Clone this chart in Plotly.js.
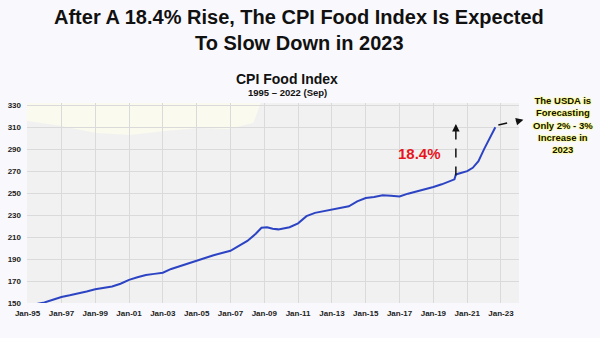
<!DOCTYPE html>
<html>
<head>
<meta charset="utf-8">
<script src="https://cdn.plot.ly/plotly-3.0.1.min.js"></script>
<style>html,body{margin:0;padding:0;background:#f9f9fd;}#chart{width:600px;height:338px;}</style>
</head>
<body>
<div id="chart"></div>
<script>
// Data
const months = ['1995-01','1995-07','1996-01','1996-07','1997-01','1997-07','1998-01','1998-07','1999-01','1999-07',
  '2000-01','2000-07','2001-01','2001-07','2002-01','2002-07','2003-01','2003-07','2004-01','2004-07',
  '2005-01','2005-07','2006-01','2006-07','2007-01','2007-07','2008-01','2008-07','2008-11','2009-03',
  '2009-07','2009-11','2010-07','2011-01','2011-07','2012-01','2012-07','2013-01','2013-07','2014-01',
  '2014-07','2015-01','2015-07','2016-01','2016-07','2017-01','2017-07','2018-01','2018-07','2019-01',
  '2019-07','2020-01','2020-04','2020-05','2020-09','2021-01','2021-05','2021-09','2022-01','2022-05','2022-09'];
const cpiFood = [147.5,149,150.5,153,155.5,157,158.5,160.5,162.5,163.5,
  165,167.5,171,173.5,175.5,176.5,177.5,181,183.5,186.5,
  189,191.5,193.5,195.5,197.5,202,206.5,213,218.5,219,
  217.5,217,219,222.5,229,232,233.5,235.5,236.5,238,
  242.5,245.5,246.5,248,247.5,247,249.5,251.5,253,255.5,
  258,261,262.5,267,268.5,270,273,279,290,300,310];
const riseLabel = '18.4%';
const riseDate = '2020-05-01';
const riseFrom = 266;
const riseTo = 313;
const forecastText = 'The USDA is<br>Forecasting<br>Only 2% - 3%<br>Increase in<br>2023';

const trace = {
  x: months.map(m => m + '-01'), y: cpiFood, type: 'scatter', mode: 'lines',
  line: {color: '#2c44c4', width: 2}, hoverinfo: 'skip'
};

const tickFont = {family: 'Liberation Sans, Arial, sans-serif', size: 8, color: '#222', weight: 'bold'};
const py = p => (303 - p) / 200;   // pixel row -> paper y
const px = p => (p - 27) / 492;    // pixel column -> paper x

const layout = {
  width: 600, height: 338,
  paper_bgcolor: '#f9f9fd', plot_bgcolor: '#f1f1f1',
  margin: {l: 27, r: 81, t: 103, b: 35},
  showlegend: false,
  xaxis: {
    type: 'date', range: ['1994-12-20', '2024-01-25'],
    tick0: '1995-01-01', dtick: 'M24', tickformat: '%b-%y',
    showgrid: true, gridcolor: '#dadada', gridwidth: 1, ticklabelstandoff: 4,
    ticks: '', tickfont: tickFont, zeroline: false, showline: false, fixedrange: true
  },
  yaxis: {
    range: [150, 332], tick0: 150, dtick: 20,
    showgrid: true, gridcolor: '#dadada', gridwidth: 1, ticklabelstandoff: 5,
    ticks: '', tickfont: tickFont, zeroline: false, showline: false, fixedrange: true
  },
  shapes: [
    {type: 'path', xref: 'paper', yref: 'paper', layer: 'below', line: {width: 0},
     fillcolor: 'rgba(251,251,238,0.9)',
     path: 'M0,1 L0,0.91 L0.07,0.885 L0.14,0.85 L0.21,0.84 L0.28,0.86 L0.35,0.875 L0.41,0.87 L0.46,0.9 L0.475,1 Z'},
    {type: 'line', xref: 'x', yref: 'y', x0: riseDate, x1: riseDate, y0: riseFrom, y1: riseTo - 3,
     line: {color: '#111', width: 1.5, dash: 'dash'}},
    {type: 'line', xref: 'paper', yref: 'paper', x0: 0.958, y0: 0.89, x1: 1.0, y1: 0.913,
     line: {color: '#111', width: 1.5, dash: 'dash'}}
  ],
  annotations: [
    {text: 'After A 18.4% Rise, The CPI Food Index Is Expected', xref: 'paper', yref: 'paper',
     x: px(299), y: py(17), xanchor: 'center', yanchor: 'middle', showarrow: false,
     font: {family: 'Liberation Sans, Arial, sans-serif', size: 20, color: '#111', weight: 'bold'}},
    {text: 'To Slow Down in 2023', xref: 'paper', yref: 'paper',
     x: px(299), y: py(43), xanchor: 'center', yanchor: 'middle', showarrow: false,
     font: {family: 'Liberation Sans, Arial, sans-serif', size: 20, color: '#111', weight: 'bold'}},
    {text: 'CPI Food Index', xref: 'paper', yref: 'paper', x: px(287), y: py(79),
     xanchor: 'center', yanchor: 'middle', showarrow: false,
     font: {family: 'Liberation Sans, Arial, sans-serif', size: 14, color: '#111', weight: 'bold'}},
    {text: '1995 \u2013 2022 (Sep)', xref: 'paper', yref: 'paper', x: px(287), y: py(93),
     xanchor: 'center', yanchor: 'middle', showarrow: false,
     font: {family: 'Liberation Sans, Arial, sans-serif', size: 9.5, color: '#111', weight: 'bold'}},
    {text: riseLabel, xref: 'x', yref: 'y', x: '2018-03-01', y: 286.5,
     xanchor: 'center', yanchor: 'middle', showarrow: false,
     font: {family: 'Liberation Sans, Arial, sans-serif', size: 15, color: '#e8141b', weight: 'bold'}},
    {text: '', xref: 'x', yref: 'y', x: riseDate, y: riseTo, axref: 'x', ayref: 'y', ax: riseDate, ay: riseTo - 4,
     showarrow: true, arrowhead: 2, arrowsize: 1, arrowwidth: 1.5, arrowcolor: '#111', standoff: 0, startstandoff: 0},
    {text: '', xref: 'paper', yref: 'paper', x: 1.009, y: 0.916, ax: -6, ay: 1.5,
     showarrow: true, arrowhead: 2, arrowsize: 1, arrowwidth: 1.5, arrowcolor: '#111', standoff: 0, startstandoff: 0},
    {text: forecastText, xref: 'paper', yref: 'paper', x: px(563), y: py(125),
     xanchor: 'center', yanchor: 'middle', showarrow: false, align: 'center',
     font: {family: 'Liberation Sans, Arial, sans-serif', size: 9.5, color: '#111', weight: 'bold',
            shadow: '0 0 2px #ffff40, 0 0 2px #ffff40'}}
  ]
};

Plotly.newPlot('chart', [trace], layout, {staticPlot: true, displayModeBar: false});
</script>
</body>
</html>
